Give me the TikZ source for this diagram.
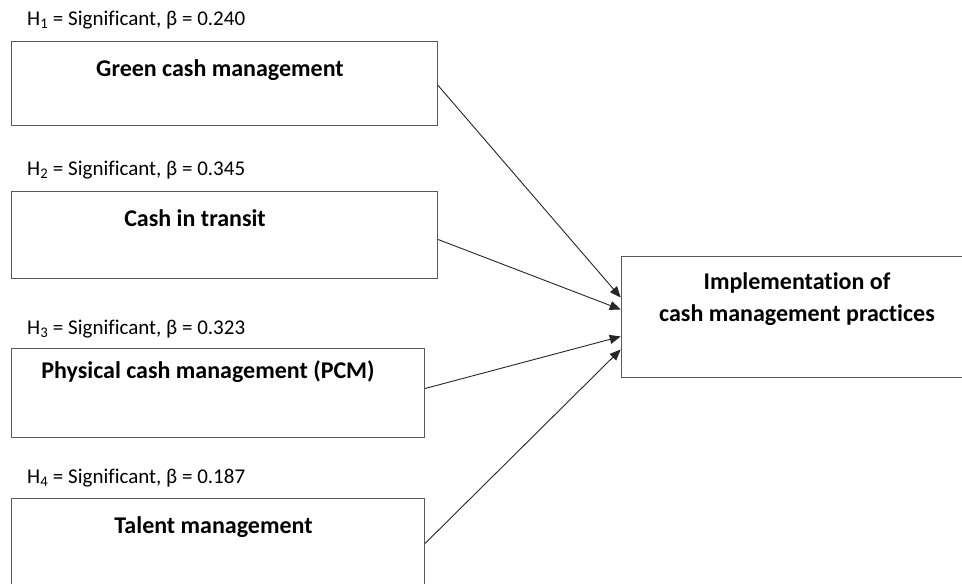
\documentclass[tikz,border=0pt]{standalone}
\usepackage{fontspec}
\setmainfont{Carlito}[Ligatures=CommonOff]
\usetikzlibrary{arrows.meta}
\begin{document}
\begin{tikzpicture}[x=1pt,y=-1pt,
  box/.style={draw=black!65,line width=1pt,fill=white,inner sep=0pt,anchor=north west},
  boxtext/.style={font=\fontsize{24}{32}\selectfont\bfseries,anchor=base,inner sep=0pt,align=center},
  hyp/.style={font=\fontsize{21}{24}\selectfont,anchor=base west,inner sep=0pt},
  conn/.style={draw=black!85,line width=0.9pt,-{Triangle[length=11pt,width=9pt]}}]
\useasboundingbox (0,0) rectangle (962,584);
\clip (0,0) rectangle (962,584);
\fill[white] (0,0) rectangle (962,584);
% boxes
\node[box,minimum width=426pt,minimum height=84.3pt] (b1) at (11,40.7) {};
\node[box,minimum width=426pt,minimum height=87.3pt] (b2) at (11,190.7) {};
\node[box,minimum width=413pt,minimum height=89pt] (b3) at (11,348) {};
\node[box,minimum width=413pt,minimum height=90pt] (b4) at (11,498) {};
\node[box,minimum width=353pt,minimum height=121pt] (r) at (620.7,256) {};
% box texts
\node[boxtext] (t1) at (220,76) {Green cash management};
\node[boxtext] (t2) at (195,226) {Cash in transit};
\node[boxtext] (t3) at (208,378) {Physical cash management (PCM)};
\node[boxtext] (t4) at (213.5,533) {Talent management};
\node[boxtext,anchor=base] (tr) at (797,321.7) {Implementation of\\cash management practices};
% hypothesis labels
\node[hyp] (h1) at (27,25) {H\textsubscript{1} = Significant, β = 0.240};
\node[hyp] (h2) at (27,175) {H\textsubscript{2} = Significant, β = 0.345};
\node[hyp] (h3) at (27,334.5) {H\textsubscript{3} = Significant, β = 0.323};
\node[hyp] (h4) at (27,483.5) {H\textsubscript{4} = Significant, β = 0.187};
% connectors
\draw[conn] ([yshift=-2pt]b1.east) -- ([yshift=19.5pt]r.west);
\draw[conn] ([yshift=-4.6pt]b2.east) -- ([yshift=7.5pt]r.west);
\draw[conn] ([yshift=4.5pt]b3.east) -- ([yshift=-19.5pt]r.west);
\draw[conn] (b4.east) -- ([yshift=-32.5pt]r.west);
\end{tikzpicture}
\end{document}
